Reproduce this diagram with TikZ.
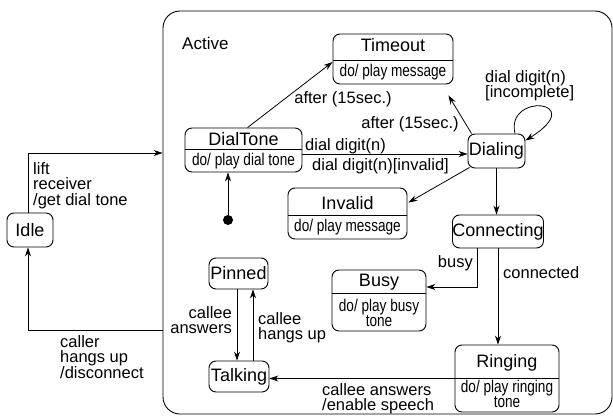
\documentclass[tikz,border=0pt]{standalone}
\usepackage{fontspec}
\setmainfont{Liberation Sans}
\newfontfamily\condfont[FakeStretch=0.8]{Liberation Sans}
\usetikzlibrary{arrows.meta,calc}
\begin{document}
\begin{tikzpicture}[x=1pt,y=-1pt,
  lbl/.style={font=\fontsize{16.5}{15.5}\selectfont, inner sep=0pt},
  state/.style={draw, rounded corners=7pt, line width=0.9pt, inner sep=0pt, font=\fontsize{18}{18}\selectfont},
  ttl/.style={font=\fontsize{18}{18}\selectfont, inner sep=0pt},
  act/.style={font=\condfont\fontsize{17}{14.5}\selectfont, inner sep=0pt, align=center},
  arr/.style={-{Stealth[length=9pt,width=6pt]}, line width=0.8pt},
  divline/.style={line width=0.8pt}]
\path[use as bounding box, fill=white] (0,0) rectangle (613,417);

% outer composite state
\node[state, rounded corners=17pt, minimum width=449pt, minimum height=403pt] (active) at (387.5,212.5) {};
\node[lbl, anchor=base west, font=\fontsize{17}{17}\selectfont] (activeT) at (182,50) {Active};

% states
\node[state, minimum width=120pt, minimum height=50pt] (timeout) at (393,59) {};
\draw[divline] ($(timeout.west)+(0,1)$) -- ($(timeout.east)+(0,1)$);
\node[ttl] (timeoutT) at (393,45.5) {Timeout};
\node[act] (timeoutA) at (393,72.5) {do/ play message};

\node[state, minimum width=117pt, minimum height=44pt] (dialtone) at (243.5,150) {};
\draw[divline] ($(dialtone.west)+(0,-1)$) -- ($(dialtone.east)+(0,-1)$);
\node[ttl] (dialtoneT) at (243.5,139.5) {DialTone};
\node[act] (dialtoneA) at (243.5,161.5) {do/ play dial tone};

\node[state, minimum width=57pt, minimum height=34pt] (dialing) at (496.5,151) {Dialing};

\node[state, minimum width=119pt, minimum height=51pt] (invalid) at (347.5,213.5) {};
\draw[divline] ($(invalid.west)+(0,1.5)$) -- ($(invalid.east)+(0,1.5)$);
\node[ttl] (invalidT) at (347.5,203) {Invalid};
\node[act] (invalidA) at (347.5,227.5) {do/ play message};

\node[state, minimum width=90pt, minimum height=33pt] (connecting) at (498,231.5) {Connecting};

\node[state, minimum width=59pt, minimum height=31pt] (pinned) at (238.5,273.5) {Pinned};

\node[state, minimum width=94pt, minimum height=61pt] (busy) at (379,300.5) {};
\draw[divline] ($(busy.west)+(0,-7.5)$) -- ($(busy.east)+(0,-7.5)$);
\node[ttl] (busyT) at (379,282.5) {Busy};
\node[act] (busyA) at (379,313) {do/ play busy\\tone};

\node[state, minimum width=60pt, minimum height=31pt] (talking) at (239,376.5) {Talking};

\node[state, minimum width=104pt, minimum height=67pt] (ringing) at (507,378.5) {};
\draw[divline] ($(ringing.west)+(0,-0.5)$) -- ($(ringing.east)+(0,-0.5)$);
\node[ttl] (ringingT) at (507,362.5) {Ringing};
\node[act] (ringingA) at (507,394) {do/ play ringing\\tone};

\node[state, minimum width=46pt, minimum height=34pt] (idle) at (30,230) {Idle};

\node[circle, fill, inner sep=0pt, minimum size=10pt] (init) at (228,220) {};

% transitions
\draw[arr] (init) -- (init |- dialtone.south);
\draw[arr] ($(dialtone.north west)+(63,0)$) -- ($(timeout.west)+(0,3)$);
\draw[arr] ($(dialtone.east)+(0,4)$) -- ($(dialing.west)+(0,3)$);
\draw[arr] ($(dialing.north west)+(4,0)$) -- ($(timeout.south east)+(-5,11)$);
\draw[arr] ($(dialing.north)+(18.5,0)$) .. controls (505,92) and (590,100) .. ($(dialing.north east)+(0,7)$);
\draw[arr] ($(dialing.south west)+(2,-1)$) -- ($(invalid.north east)+(1,15)$);
\draw[arr] (dialing.south) -- (dialing.south |- connecting.north);
\draw[arr] ($(connecting.south)+(-21,0)$) |- ($(busy.east)+(0,-13.5)$);
\draw[arr] (connecting.south) -- (connecting.south |- ringing.north);
\draw[arr] (ringing.west) -- (ringing.west -| talking.east);
\draw[arr] ($(pinned.south)+(-1.5,0)$) -- ($(talking.north)+(-2,0)$);
\draw[arr] ($(talking.north)+(14,0)$) -- ($(pinned.south)+(14.5,0)$);
\draw[arr] ($(idle.north)+(-2,0)$) |- ($(active.west)+(0,-59.5)$);
\draw[arr] ($(active.west)+(0,117.5)$) -| ($(idle.south)+(-2,0)$);

% labels
\node[lbl, anchor=base] (l1) at (343,104) {after (15sec.)};
\node[lbl, anchor=base] (l2) at (410,129) {after (15sec.)};
\node[lbl, anchor=base west] (l3) at (305,150) {dial digit(n)};
\node[lbl, anchor=base west] (l4) at (312,170) {dial digit(n)[invalid]};
\node[lbl, anchor=north west, align=left] (l5) at (485,70) {dial digit(n)\\{}[incomplete]};
\node[lbl, anchor=base east] (l6) at (473,267) {busy};
\node[lbl, anchor=base west] (l7) at (503,278) {connected};
\node[lbl, anchor=north east, align=right] (l8) at (232,306) {callee\\answers};
\node[lbl, anchor=north west, align=left] (l9) at (258,312) {callee\\hangs up};
\node[lbl, anchor=north west, align=left] (l10) at (322,383) {callee answers\\/enable speech};
\node[lbl, anchor=north west, align=left] (l11) at (33,162) {lift\\receiver\\/get dial tone};
\node[lbl, anchor=north west, align=left] (l12) at (60,335) {caller\\hangs up\\/disconnect};
\end{tikzpicture}
\end{document}
